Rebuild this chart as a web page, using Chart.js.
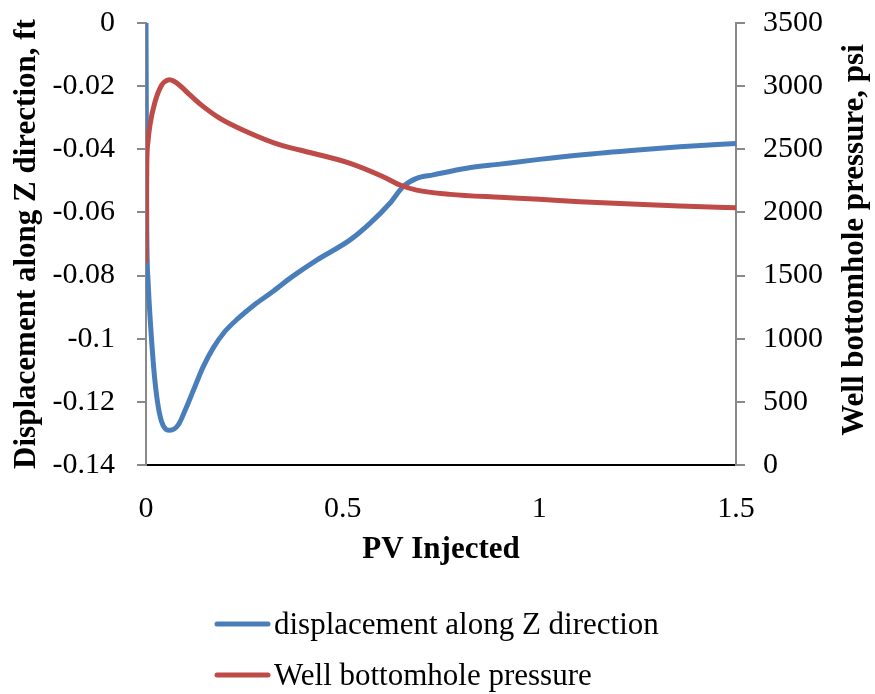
<!DOCTYPE html>
<html>
<head>
<meta charset="utf-8">
<script src="https://cdn.jsdelivr.net/npm/chart.js@4"></script>
<style>
  html, body { margin: 0; padding: 0; background: #fff; }
  #wrap { position: relative; width: 875px; height: 694px; }
</style>
</head>
<body>
<div id="wrap"><canvas id="pvChart"></canvas></div>
<script>
// data
const pvDisp = [0, 0.001, 0.002, 0.005, 0.01, 0.023, 0.04, 0.061, 0.082, 0.1, 0.12, 0.145, 0.171, 0.2, 0.235, 0.275, 0.32, 0.37, 0.434, 0.519, 0.57, 0.62, 0.654, 0.688, 0.73, 0.815, 0.9, 1.0, 1.103, 1.25, 1.357, 1.5];
const dispZ = [0, -0.035, -0.066, -0.081, -0.0925, -0.1137, -0.1264, -0.129, -0.1273, -0.1225, -0.1165, -0.109, -0.1029, -0.0978, -0.0935, -0.0893, -0.0853, -0.0805, -0.0751, -0.0687, -0.0634, -0.0571, -0.0518, -0.0492, -0.0481, -0.046, -0.0447, -0.0432, -0.0418, -0.0402, -0.0392, -0.0382];

const pvPress = [0, 0.001, 0.002, 0.005, 0.01, 0.023, 0.04, 0.05, 0.06, 0.07, 0.086, 0.11, 0.137, 0.188, 0.256, 0.341, 0.391, 0.519, 0.603, 0.646, 0.688, 0.773, 0.9, 1.0, 1.103, 1.25, 1.357, 1.5];
const bhp = [1600, 2000, 2376, 2560, 2692, 2876, 3009, 3040, 3050, 3040, 3005, 2935, 2860, 2745, 2639, 2534, 2494, 2389, 2283, 2217, 2177, 2143, 2120, 2105, 2085, 2065, 2051, 2037];

const dispLabel = 'displacement along Z direction';
const bhpLabel = 'Well bottomhole pressure';
const blue = '#4a7ebb';
const red = '#be4b48';
const axisGray = '#898989';
const serif = '"Liberation Serif", "Times New Roman", serif';

// legend stacked under the plot, plus the right title reading bottom-up
const extras = {
  id: 'extras',
  afterDraw(chart) {
    const c = chart.ctx;
    c.save();
    const rows = [[blue, dispLabel, 624], [red, bhpLabel, 675]];
    c.font = '31px ' + serif;
    c.textBaseline = 'middle';
    c.fillStyle = '#000';
    rows.forEach(([col, txt, y]) => {
      c.strokeStyle = col;
      c.lineWidth = 5;
      c.lineCap = 'round';
      c.beginPath();
      c.moveTo(217, y);
      c.lineTo(268, y);
      c.stroke();
      c.fillText(txt, 274, y + 2);
    });
    c.translate(855, 240);
    c.rotate(-Math.PI / 2);
    c.textAlign = 'center';
    c.font = 'bold 31px ' + serif;
    c.fillText('Well bottomhole pressure, psi', 0, 0);
    c.restore();
  }
};

const fitY = w => s => { s.width = w; s.paddingTop = 0; s.paddingBottom = 0; };

const ctx = document.getElementById('pvChart').getContext('2d');
new Chart(ctx, {
  type: 'line',
  data: {
    datasets: [
      {
        label: dispLabel,
        data: pvDisp.map((x, i) => ({ x: x, y: dispZ[i] })),
        borderColor: blue,
        borderWidth: 5,
        pointRadius: 0,
        cubicInterpolationMode: 'monotone',
        yAxisID: 'y',
        order: 1
      },
      {
        label: bhpLabel,
        data: pvPress.map((x, i) => ({ x: x, y: bhp[i] })),
        borderColor: red,
        borderWidth: 5,
        pointRadius: 0,
        cubicInterpolationMode: 'monotone',
        yAxisID: 'y1',
        order: 0
      }
    ]
  },
  options: {
    responsive: true,
    maintainAspectRatio: false,
    animation: false,
    layout: { padding: { top: 23, bottom: 125, left: 0, right: 0 } },
    plugins: { legend: { display: false }, tooltip: { enabled: false } },
    scales: {
      x: {
        type: 'linear',
        min: 0,
        max: 1.5,
        afterFit: s => { s.height = 104; s.paddingLeft = 0; s.paddingRight = 0; },
        ticks: { stepSize: 0.5, padding: 18, color: '#000', font: { family: serif, size: 30 }, callback: v => String(v), maxRotation: 0 },
        grid: { display: false },
        border: { color: '#000', width: 2 },
        title: { display: true, text: 'PV Injected', color: '#000', padding: { top: 0, bottom: 0 }, font: { family: serif, size: 31, weight: 'bold' } }
      },
      y: {
        position: 'left',
        min: -0.14,
        max: 0,
        afterFit: fitY(146),
        ticks: { stepSize: 0.02, padding: 22, color: '#000', font: { family: serif, size: 30 }, callback: v => String(Number(v.toFixed(2))) },
        grid: { drawOnChartArea: false, tickLength: 9, color: axisGray, lineWidth: 2 },
        border: { color: axisGray, width: 2 },
        title: { display: true, text: 'Displacement along Z direction, ft', color: '#000', padding: { top: 8, bottom: 0 }, font: { family: serif, size: 31, weight: 'bold' } }
      },
      y1: {
        position: 'right',
        min: 0,
        max: 3500,
        afterFit: fitY(139),
        ticks: { stepSize: 500, padding: 18, color: '#000', font: { family: serif, size: 30 }, callback: v => String(v) },
        grid: { drawOnChartArea: false, tickLength: 9, color: axisGray, lineWidth: 2 },
        border: { color: axisGray, width: 2 }
      }
    }
  },
  plugins: [extras]
});
</script>
</body>
</html>
